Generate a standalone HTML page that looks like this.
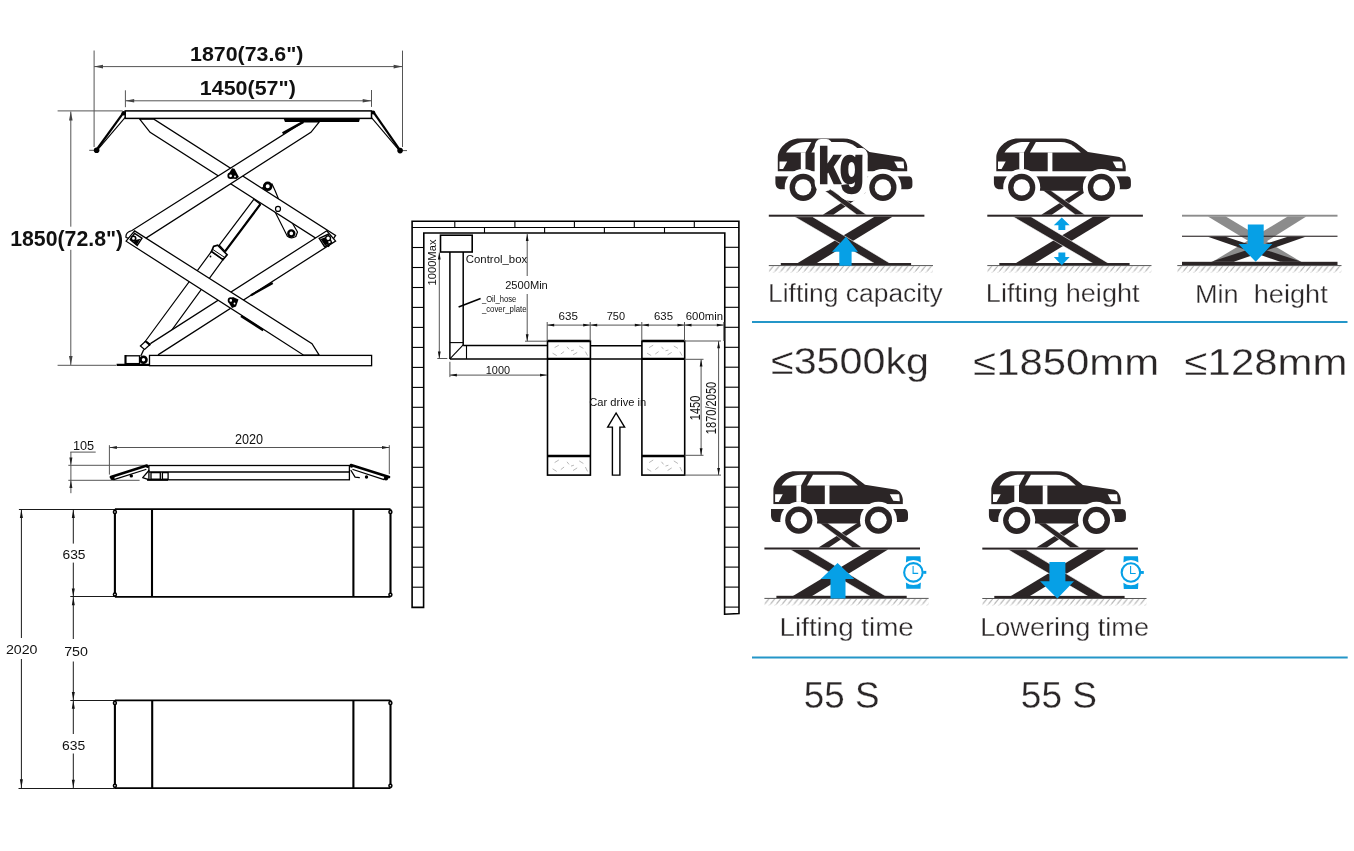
<!DOCTYPE html>
<html><head><meta charset="utf-8">
<style>
html,body{margin:0;padding:0;background:#fff;}
body{width:1354px;height:851px;overflow:hidden;position:relative;}
svg{position:absolute;left:0;top:0;will-change:transform;}
.lbl{font-family:"Liberation Sans",sans-serif;fill:#2a2627;stroke:#fff;stroke-width:0.3;}
.dim{font-family:"Liberation Sans",sans-serif;fill:#111;}
</style></head><body>
<svg width="1354" height="851" viewBox="0 0 1354 851">
<defs>
  <g id="car">
    <path fill="#2b2526" d="M2.4,33.1 L2.4,19 C2.4,10 12,0 24,0 L68,0 C74,0 78,1.5 83,5 L94,13.6 L124,18.3 C128,19 131,22 131.8,28 L131.8,33.1 Z"/>
    <path fill="#fff" d="M10.6,14.2 C14,8 22,3.5 30,3.5 L36,3.5 L30.1,14.2 Z"/>
    <path fill="#fff" d="M42,3.5 L67,3.5 C72,3.5 76,5 80,8 L86.9,14.2 L36,14.2 Z"/>
    <rect fill="#fff" x="25.4" y="14" width="4.7" height="16.7"/>
    <rect fill="#fff" x="53.8" y="14" width="4.7" height="20"/>
    <path fill="#fff" d="M4.1,23 L11.8,23 L7.7,30.7 L4.1,30.7 Z"/>
    <path fill="#fff" d="M118.8,23 L128.2,23 L128.8,30.1 L122.3,29.5 Z"/>
    <path fill="#2b2526" d="M0,37.8 L133,37.8 C136,37.8 137,40 137,43 L137,46.5 C137,49.5 135.5,50.8 131,50.8 L90,50.8 L89,52.3 L44,52.3 L43,50.8 L6,50.8 C2,50.8 0,48 0,44 Z"/>
    <circle fill="#fff" cx="27.8" cy="49" r="18.5"/>
    <circle fill="#fff" cx="107.5" cy="49" r="18.5"/>
    <rect fill="#fff" x="0" y="33.1" width="140" height="4.7"/>
    <circle fill="#2b2526" cx="27.8" cy="49" r="13.6"/>
    <circle fill="#fff" cx="27.8" cy="49" r="8.2"/>
    <circle fill="#2b2526" cx="107.5" cy="49" r="13.6"/>
    <circle fill="#fff" cx="107.5" cy="49" r="8.2"/>
  </g>
  <pattern id="hatch" width="5.85" height="7" patternUnits="userSpaceOnUse">
    <line x1="0.3" y1="6.6" x2="5.3" y2="0.4" stroke="#5c5c5c" stroke-width="0.7"/>
  </pattern>
  <g id="ground">
    <rect x="0" y="50.6" width="164" height="6.2" fill="url(#hatch)"/>
    <line x1="0" y1="49.9" x2="164.2" y2="49.9" stroke="#555" stroke-width="1"/>
  </g>
  <g id="smallx">
    <polygon fill="#2b2526" points="93,-25.6 101,-25.6 64.5,-1 54,-1"/>
    <polygon fill="#2b2526" stroke="#fff" stroke-width="0.5" points="55,-25.6 63,-25.6 97.7,-1 88,-1"/>
  </g>
  <g id="bigx">
    <polygon fill="#2b2526" points="105.7,1 123.7,1 46.5,48.2 27.3,48.2"/>
    <polygon fill="#2b2526" stroke="#fff" stroke-width="0.6" points="25.7,1 43.7,1 122.3,48.2 106.4,48.2"/>
    <rect fill="#2b2526" x="0" y="-1" width="155.6" height="2"/>
    <rect fill="#2b2526" x="12" y="47.3" width="130.3" height="2.2"/>
  </g>
  <g id="lifticon">
    <use href="#ground"/>
    <use href="#smallx"/>
    <use href="#car" x="6.6" y="-77.3"/>
    <use href="#bigx"/>
  </g>
  <g id="watch">
    <path d="M-7.1,-16.2 L7.1,-16.2 L7.5,-10 A12.5,12.5 0 0 0 -7.5,-10 Z" fill="#06a0e6"/>
    <path d="M-7.1,16.4 L7.1,16.4 L7.5,10.2 A12.5,12.5 0 0 1 -7.5,10.2 Z" fill="#06a0e6"/>
    <circle cx="0" cy="0" r="9.25" fill="#fff" stroke="#06a0e6" stroke-width="2.1"/>
    <path d="M-0.3,-6.4 L-0.3,1 L4.8,1" fill="none" stroke="#06a0e6" stroke-width="1.1"/>
    <rect x="9.8" y="-1.5" width="3.1" height="2.9" fill="#06a0e6"/>
  </g>
</defs>


<!-- ===== DRAWING A: side view ===== -->
<g id="drawA" fill="none" stroke-linecap="butt">
  <!-- dimension lines -->
  <g stroke="#555" stroke-width="1">
    <line x1="94.1" y1="50.5" x2="94.1" y2="147"/>
    <line x1="402.5" y1="50.6" x2="402.5" y2="147"/>
    <line x1="94.1" y1="66.6" x2="402.5" y2="66.6"/>
    <line x1="125.4" y1="90.3" x2="125.4" y2="107.2"/>
    <line x1="371.5" y1="90" x2="371.5" y2="106.9"/>
    <line x1="125.4" y1="100.8" x2="371.5" y2="100.8"/>
    <line x1="57.6" y1="110.9" x2="122.7" y2="110.9"/>
    <line x1="57.6" y1="365.3" x2="116" y2="365.3"/>
    <line x1="70.8" y1="111.5" x2="70.8" y2="226.7"/><line x1="70.8" y1="249.8" x2="70.8" y2="365"/>
    <line x1="89.2" y1="150.3" x2="96" y2="150.3"/>
    <line x1="400" y1="150.6" x2="407" y2="150.6"/>
  </g>
  <g fill="#444" stroke="none">
    <polygon points="94.1,66.6 103,64.8 103,68.4"/>
    <polygon points="402.5,66.6 393.6,64.8 393.6,68.4"/>
    <polygon points="125.4,100.8 134.2,99 134.2,102.6"/>
    <polygon points="371.5,100.8 362.7,99 362.7,102.6"/>
    <polygon points="70.8,111.5 69,120.5 72.6,120.5"/>
    <polygon points="70.8,365 69,356 72.6,356"/>
  </g>
  <!-- cylinder (behind) -->
  <g stroke="#000" stroke-width="1.2" fill="#fff">
    <polygon points="144.8,342 211.5,251.4 223,259.6 168.5,334.5 150.4,344"/>
    <polygon points="219.3,245.2 253.8,199.3 260.4,204.2 225.1,251.4" />
    <polygon points="213.6,246.4 217.7,245.2 227.1,254.7 223,259.6 211.5,251.4" stroke-width="1.7"/>
  </g>
  <line x1="213" y1="249.6" x2="224" y2="257" stroke="#000" stroke-width="1"/>
  <circle cx="210.5" cy="256.5" r="0.9" fill="#000"/>
  <line x1="225.1" y1="251.4" x2="260.4" y2="204.2" stroke="#000" stroke-width="2.2"/>
  <!-- link (behind arm A) -->
  <path d="M262.8,187.5 L287.2,236 Q291,239.5 295.8,236.5 L297.5,232 L278.5,199 Q275,190 272,184 Z" stroke="#000" stroke-width="1.2" fill="#fff"/>
  <!-- arms -->
  <g stroke="#000" stroke-width="1.25" fill="#fff" stroke-linejoin="miter">
    <polygon points="139.7,119.1 153.9,119.1 335.6,235.4 328.6,246.4 150.1,132.3"/>
    <path d="M303.4,121.9 L319.3,121.9 L310.9,132.3 L146.4,237.9 L136,240 L126.1,237.5 Q125,232.5 132,230.5 Z"/>
    <polygon points="150.4,343.6 326.8,230.8 335.6,241 158,354.9 146,362 141,352" stroke="none"/><path d="M150.4,343.6 L326.8,230.8 L335.6,241 L158,354.9" fill="none"/>
    <polygon points="134.6,230.9 312,343.7 319.2,355.2 303.7,355.2 126.1,241.2"/>
  </g>
  <!-- pivot plates -->
  <g stroke="#000" stroke-width="1.4" fill="#fff">
    <polygon points="134.6,233.3 142,238.2 137.2,245.4 130.2,239.6"/>
    <polygon points="319.2,238.3 328.1,234.3 331.6,242.7 324.6,246.7"/>
  </g>
  <g fill="#000">
    <polygon points="135.5,240 140.5,238.8 137,244.5 133,242.5"/>
    <polygon points="320.5,239 326,237 329,243.5 325,245.5"/>
  </g>
  <!-- cylinder bottom block -->
  <g stroke="#000" fill="#fff" stroke-width="1.2">
    <polygon points="140.4,346 145.5,341.2 149.8,344.8 144.6,349.5"/>
  </g>
  <line x1="146" y1="341.5" x2="150.3" y2="345.3" stroke="#000" stroke-width="2.2"/>
  <line x1="143.8" y1="349.5" x2="140.8" y2="356" stroke="#000" stroke-width="1.3"/>
  <!-- platform and base -->
  <g stroke="#000" stroke-width="1.3" fill="#fff">
    <rect x="125.2" y="110.9" width="246.3" height="7.5" stroke-width="1.5"/>
    <rect x="149.5" y="355.4" width="222.1" height="10.3"/>
    <rect x="125.5" y="355.8" width="14" height="7.8"/>
  </g>
  <g stroke="#000" fill="none">
    <line x1="125.5" y1="355" x2="125.5" y2="365" stroke-width="2"/>
    <line x1="116.6" y1="364.9" x2="149.5" y2="364.9" stroke-width="2.2"/>
    <polygon points="283.6,118.6 360,118.6 359,121.9 285,121.9" fill="#000" stroke="none"/>
    <line x1="282.6" y1="133.2" x2="303.4" y2="121.9" stroke-width="2.4"/>
    <line x1="241" y1="316" x2="263.2" y2="330.4" stroke-width="2.2"/>
    <line x1="251" y1="295.2" x2="272.7" y2="283" stroke-width="2.2"/>
    <!-- ramps -->
    <line x1="123.5" y1="112.6" x2="96.4" y2="150" stroke-width="2.2"/>
    <line x1="125.2" y1="117.4" x2="98.6" y2="148.6" stroke-width="1.1"/>
    <line x1="373.3" y1="111.8" x2="400.1" y2="150.4" stroke-width="2.2"/>
    <line x1="371.5" y1="117.6" x2="398.2" y2="149.2" stroke-width="1.1"/>
  </g>
  <g fill="#000">
    <circle cx="96.6" cy="150.3" r="2.8"/>
    <circle cx="123.7" cy="113.2" r="2.3"/>
    <circle cx="400.1" cy="150.6" r="2.8"/>
    <circle cx="373.2" cy="112.6" r="2"/>
  </g>
  <g stroke="#000" fill="#fff">
    <circle cx="267.7" cy="186.3" r="3.4" stroke-width="2.8"/>
    <circle cx="278" cy="208.9" r="2.5" stroke-width="1.2"/>
    <circle cx="291.3" cy="233.4" r="3" stroke-width="2.4"/>
    
    <circle cx="133.5" cy="238.4" r="2.2" stroke-width="1.6"/>
    <circle cx="328.1" cy="238.3" r="2.4" stroke-width="1.4"/>
    
    <circle cx="143.5" cy="359.7" r="3" stroke-width="2.6"/>
  </g>
  <g fill="#000">
    
    
    
    
  </g>
  <!-- center pivots -->
  <g fill="#000">
    <path d="M229.5,172.5 L232,168.3 L234.5,168.7 L238.9,177.1 L236.4,179.1 L231,178.5 Z"/>
    <path d="M229,300 L233,297 L238.5,299.5 L236,306.5 L232,308 L229.5,304 Z"/>
  </g>
  <g stroke="#000" stroke-width="1.8" fill="#fff">
    <circle cx="230.6" cy="175.8" r="2.3"/>
    <circle cx="230.8" cy="300.4" r="2.2"/>
  </g>
  <g fill="#fff"><circle cx="235" cy="176.5" r="0.9"/><circle cx="234.5" cy="303.5" r="0.9"/></g>
  <g font-family="Liberation Sans" font-weight="bold" fill="#111" stroke="none">
    <text x="190" y="61" font-size="21" textLength="113.5" lengthAdjust="spacingAndGlyphs">1870(73.6")</text>
    <text x="199.8" y="94.7" font-size="21" textLength="96" lengthAdjust="spacingAndGlyphs">1450(57")</text>
    <text x="10.2" y="245.6" font-size="22" textLength="113" lengthAdjust="spacingAndGlyphs">1850(72.8")</text>
  </g>
</g>


<!-- ===== DRAWING B: low side view ===== -->
<g id="drawB">
  <g stroke="#555" stroke-width="1" fill="none">
    <line x1="70.3" y1="452.1" x2="95.7" y2="452.1"/>
    <line x1="70.9" y1="452.1" x2="70.9" y2="493.2"/>
    <line x1="68.3" y1="465.3" x2="146.9" y2="465.3"/>
    <line x1="68.3" y1="480.3" x2="139.6" y2="480.3"/>
    <line x1="109.4" y1="445.2" x2="109.4" y2="474.6"/>
    <line x1="389.3" y1="445.2" x2="389.3" y2="474.1"/>
    <line x1="109.4" y1="447.5" x2="389.3" y2="447.5"/>
  </g>
  <g fill="#222">
    <polygon points="70.9,465.3 69.4,457.5 72.4,457.5"/>
    <polygon points="70.9,480.3 69.4,488 72.4,488"/>
    <polygon points="109.6,447.5 116.9,446 116.9,449"/>
    <polygon points="389.3,447.5 382,446 382,449"/>
  </g>
  <g stroke="#000" stroke-width="1.3" fill="none">
    <rect x="148.9" y="465.5" width="200.5" height="14.3"/>
    <line x1="148.9" y1="472" x2="349.4" y2="472"/>
    <rect x="151" y="472.6" width="9.3" height="6.7"/>
    <rect x="162.4" y="472.6" width="5.7" height="6.7"/>
    <line x1="147" y1="479.8" x2="168" y2="479.8" stroke-width="2"/>
  </g>
  <g stroke="#000" fill="none" stroke-linecap="round" stroke-linejoin="round">
    <line x1="110.9" y1="477" x2="146.9" y2="465.6" stroke-width="2.6"/>
    <line x1="113.8" y1="479.6" x2="145.8" y2="469.5" stroke-width="1.3"/>
    <line x1="351" y1="465" x2="389" y2="477" stroke-width="2.6"/>
    <line x1="353" y1="469.5" x2="384" y2="479.6" stroke-width="1.3"/>
    <path d="M148.9,470.5 L142.7,477.7 L147.9,479.3" stroke-width="1.3"/>
    <path d="M351,470.5 L355.1,477.2 L359.3,477.7" stroke-width="1.3"/>
  </g>
  <g fill="#000">
    <circle cx="112.5" cy="477.9" r="2.2"/>
    <circle cx="386" cy="478.2" r="2.2"/>
    <circle cx="131.3" cy="475.9" r="1.7"/>
    <circle cx="366.5" cy="477" r="1.7"/>
    <circle cx="147.5" cy="466.5" r="1.5"/>
    <circle cx="351.5" cy="466.2" r="1.5"/>
  </g>
  <g font-family="Liberation Sans" fill="#111">
    <text x="72.9" y="450.3" font-size="12.5" textLength="21.2" lengthAdjust="spacingAndGlyphs">105</text>
    <text x="234.9" y="444.4" font-size="14" textLength="28.1" lengthAdjust="spacingAndGlyphs">2020</text>
  </g>
</g>

<!-- ===== DRAWING C: plan views ===== -->
<g id="drawC">
  <g stroke="#1a1a1a" stroke-width="1" fill="none">
    <line x1="18.9" y1="509.5" x2="114.9" y2="509.5"/>
    <line x1="70.3" y1="596.5" x2="114.9" y2="596.5"/>
    <line x1="70.3" y1="700.5" x2="114.9" y2="700.5"/>
    <line x1="18.5" y1="788.5" x2="114.9" y2="788.5"/>
    <line x1="21.4" y1="509.2" x2="21.4" y2="638"/>
    <line x1="21.4" y1="659" x2="21.4" y2="788.1"/>
    <line x1="73.3" y1="509.2" x2="73.3" y2="543.6"/>
    <line x1="73.3" y1="562.6" x2="73.3" y2="639"/>
    <line x1="73.3" y1="661.5" x2="73.3" y2="734"/>
    <line x1="73.3" y1="753.5" x2="73.3" y2="788.1"/>
  </g>
  <g fill="#111">
    <polygon points="21.4,509.6 19.9,518 22.9,518"/>
    <polygon points="21.4,787.7 19.9,779.3 22.9,779.3"/>
    <polygon points="73.3,509.6 71.8,518 74.8,518"/>
    <polygon points="73.3,596.5 71.8,588.5 74.8,588.5"/>
    <polygon points="73.3,597.3 71.8,605.3 74.8,605.3"/>
    <polygon points="73.3,699.9 71.8,691.9 74.8,691.9"/>
    <polygon points="73.3,700.7 71.8,708.7 74.8,708.7"/>
    <polygon points="73.3,787.7 71.8,779.7 74.8,779.7"/>
  </g>
  <g stroke="#000" fill="none">
    <g stroke-width="1.7">
      <line x1="114.9" y1="509.2" x2="390.5" y2="509.2"/>
      <line x1="114.9" y1="596.8" x2="390.5" y2="596.8"/>
      <line x1="114.9" y1="700.3" x2="390.5" y2="700.3"/>
      <line x1="114.9" y1="788.1" x2="390.5" y2="788.1"/>
    </g>
    <g stroke-width="2.1">
      <line x1="114.9" y1="509.2" x2="114.9" y2="596.8"/>
      <line x1="152" y1="509.2" x2="152" y2="596.8"/>
      <line x1="353.4" y1="509.2" x2="353.4" y2="596.8"/>
      <line x1="390.5" y1="509.2" x2="390.5" y2="596.8"/>
      <line x1="114.9" y1="700.3" x2="114.9" y2="788.1"/>
      <line x1="152.2" y1="700.3" x2="152.2" y2="788.1"/>
      <line x1="353.4" y1="700.3" x2="353.4" y2="788.1"/>
      <line x1="390.5" y1="700.3" x2="390.5" y2="788.1"/>
    </g>
    <g stroke-width="1.5" fill="#fff">
      <circle cx="114.9" cy="511.9" r="1.5"/>
      <circle cx="114.9" cy="594.5" r="1.5"/>
      <circle cx="390.4" cy="511.9" r="1.5"/>
      <circle cx="390.4" cy="594.7" r="1.5"/>
      <circle cx="114.9" cy="703" r="1.5"/>
      <circle cx="114.9" cy="785.8" r="1.5"/>
      <circle cx="390.4" cy="703" r="1.5"/>
      <circle cx="390.4" cy="785.8" r="1.5"/>
    </g>
  </g>
  <g font-family="Liberation Sans" fill="#111" font-size="13.6">
    <text x="62.5" y="558.5" textLength="23" lengthAdjust="spacingAndGlyphs">635</text>
    <text x="64.2" y="656.1" textLength="23.8" lengthAdjust="spacingAndGlyphs">750</text>
    <text x="62.1" y="749.9" textLength="23.2" lengthAdjust="spacingAndGlyphs">635</text>
    <text x="5.9" y="654.2" textLength="31.6" lengthAdjust="spacingAndGlyphs">2020</text>
  </g>
</g>


<!-- ===== DRAWING D: floor plan ===== -->
<g id="drawD">
  <g stroke="#000" fill="none">
    <path d="M412.1,607.4 L412.1,221.3 L738.9,221.3 L739,613.6 L724.6,614.2 L724.8,233 L423.8,233 L423.6,607.4 Z" stroke-width="1.6" stroke-linejoin="miter"/>
    <line x1="412.1" y1="227.5" x2="738.9" y2="227.5" stroke-width="1.1"/>
    <g stroke-width="1.1"><line x1="454.8" y1="221.3" x2="454.8" y2="227.5"/><line x1="514.9" y1="221.3" x2="514.9" y2="227.5"/><line x1="574.4" y1="221.3" x2="574.4" y2="227.5"/><line x1="634.3" y1="221.3" x2="634.3" y2="227.5"/><line x1="694.3" y1="221.3" x2="694.3" y2="227.5"/><line x1="484.5" y1="227.5" x2="484.5" y2="233"/><line x1="544.6" y1="227.5" x2="544.6" y2="233"/><line x1="604.4" y1="227.5" x2="604.4" y2="233"/><line x1="664.5" y1="227.5" x2="664.5" y2="233"/><line x1="412.1" y1="247.5" x2="423.8" y2="247.5"/><line x1="412.1" y1="267.5" x2="423.8" y2="267.5"/><line x1="412.1" y1="287.5" x2="423.8" y2="287.5"/><line x1="412.1" y1="307.4" x2="423.8" y2="307.4"/><line x1="412.1" y1="327.4" x2="423.8" y2="327.4"/><line x1="412.1" y1="347.4" x2="423.8" y2="347.4"/><line x1="412.1" y1="367.4" x2="423.8" y2="367.4"/><line x1="412.1" y1="387.4" x2="423.8" y2="387.4"/><line x1="412.1" y1="407.3" x2="423.8" y2="407.3"/><line x1="412.1" y1="427.3" x2="423.8" y2="427.3"/><line x1="412.1" y1="447.3" x2="423.8" y2="447.3"/><line x1="412.1" y1="467.3" x2="423.8" y2="467.3"/><line x1="412.1" y1="487.3" x2="423.8" y2="487.3"/><line x1="412.1" y1="507.2" x2="423.8" y2="507.2"/><line x1="412.1" y1="527.2" x2="423.8" y2="527.2"/><line x1="412.1" y1="547.2" x2="423.8" y2="547.2"/><line x1="412.1" y1="567.2" x2="423.8" y2="567.2"/><line x1="412.1" y1="587.2" x2="423.8" y2="587.2"/><line x1="724.8" y1="247.3" x2="738.9" y2="247.3"/><line x1="724.8" y1="267.3" x2="738.9" y2="267.3"/><line x1="724.8" y1="287.3" x2="738.9" y2="287.3"/><line x1="724.8" y1="307.3" x2="738.9" y2="307.3"/><line x1="724.8" y1="327.3" x2="738.9" y2="327.3"/><line x1="724.8" y1="347.3" x2="738.9" y2="347.3"/><line x1="724.8" y1="367.2" x2="738.9" y2="367.2"/><line x1="724.8" y1="387.2" x2="738.9" y2="387.2"/><line x1="724.8" y1="407.2" x2="738.9" y2="407.2"/><line x1="724.8" y1="427.2" x2="738.9" y2="427.2"/><line x1="724.8" y1="447.2" x2="738.9" y2="447.2"/><line x1="724.8" y1="467.2" x2="738.9" y2="467.2"/><line x1="724.8" y1="487.2" x2="738.9" y2="487.2"/><line x1="724.8" y1="507.2" x2="738.9" y2="507.2"/><line x1="724.8" y1="527.2" x2="738.9" y2="527.2"/><line x1="724.8" y1="547.2" x2="738.9" y2="547.2"/><line x1="724.8" y1="567.1" x2="738.9" y2="567.1"/><line x1="724.8" y1="587.1" x2="738.9" y2="587.1"/><line x1="724.8" y1="607.1" x2="738.9" y2="607.1"/></g>
    <rect x="440.5" y="235.2" width="31.7" height="16.8" stroke-width="1.6"/>
    <g stroke-width="1.5">
      <line x1="449.9" y1="252" x2="449.9" y2="358.9"/>
      <line x1="463.2" y1="252" x2="463.2" y2="345.6"/>
      <line x1="463.2" y1="345.6" x2="547.5" y2="345.6"/>
      <line x1="449.9" y1="358.9" x2="547.5" y2="358.9"/>
      <line x1="590.4" y1="345.8" x2="641.9" y2="345.8"/>
      <line x1="590.4" y1="358.9" x2="641.9" y2="358.9"/>
    </g>
    <g stroke-width="1.1">
      <line x1="466.5" y1="345.6" x2="466.5" y2="358.9"/>
      <line x1="449.9" y1="342.6" x2="463.2" y2="342.6"/>
      <line x1="449.9" y1="358.9" x2="463.2" y2="344.8"/>
    </g>
    <g stroke-width="1.6">
      <rect x="547.5" y="341" width="42.9" height="134.1"/>
      <rect x="641.9" y="341" width="42.8" height="134.1"/>
    </g>
    <g stroke-width="2.3">
      <line x1="547.5" y1="358.9" x2="590.4" y2="358.9"/>
      <line x1="547.5" y1="456" x2="590.4" y2="456"/>
      <line x1="641.9" y1="358.9" x2="684.7" y2="358.9"/>
      <line x1="641.9" y1="456" x2="684.7" y2="456"/>
      <line x1="547.5" y1="341" x2="590.4" y2="341"/>
      <line x1="641.9" y1="341" x2="684.7" y2="341"/>
    </g>
    <g stroke="#888" stroke-width="0.6"><line x1="554.6" y1="347.6" x2="558.8" y2="345.2"/><line x1="560.8" y1="354.0" x2="564.1" y2="351.6"/><line x1="567.0" y1="346.8" x2="569.0" y2="349.2"/><line x1="573.1" y1="354.8" x2="577.2" y2="352.4"/><line x1="579.2" y1="346.0" x2="583.4" y2="348.4"/><line x1="585.4" y1="351.6" x2="587.5" y2="355.6"/><line x1="556.7" y1="355.6" x2="552.6" y2="353.2"/><line x1="571.0" y1="350.8" x2="573.9" y2="350.0"/><line x1="649.1" y1="347.6" x2="653.2" y2="345.2"/><line x1="655.3" y1="354.0" x2="658.6" y2="351.6"/><line x1="661.5" y1="346.8" x2="663.5" y2="349.2"/><line x1="667.6" y1="354.8" x2="671.7" y2="352.4"/><line x1="673.8" y1="346.0" x2="677.9" y2="348.4"/><line x1="679.9" y1="351.6" x2="682.0" y2="355.6"/><line x1="651.2" y1="355.6" x2="647.1" y2="353.2"/><line x1="665.5" y1="350.8" x2="668.4" y2="350.0"/><line x1="554.6" y1="462.6" x2="558.8" y2="460.0"/><line x1="560.8" y1="469.6" x2="564.1" y2="467.0"/><line x1="567.0" y1="461.8" x2="569.0" y2="464.4"/><line x1="573.1" y1="470.5" x2="577.2" y2="467.9"/><line x1="579.2" y1="460.9" x2="583.4" y2="463.5"/><line x1="585.4" y1="467.0" x2="587.5" y2="471.4"/><line x1="556.7" y1="471.4" x2="552.6" y2="468.8"/><line x1="571.0" y1="466.1" x2="573.9" y2="465.2"/><line x1="649.1" y1="462.6" x2="653.2" y2="460.0"/><line x1="655.3" y1="469.6" x2="658.6" y2="467.0"/><line x1="661.5" y1="461.8" x2="663.5" y2="464.4"/><line x1="667.6" y1="470.5" x2="671.7" y2="467.9"/><line x1="673.8" y1="460.9" x2="677.9" y2="463.5"/><line x1="679.9" y1="467.0" x2="682.0" y2="471.4"/><line x1="651.2" y1="471.4" x2="647.1" y2="468.8"/><line x1="665.5" y1="466.1" x2="668.4" y2="465.2"/></g>
    <line x1="458.6" y1="307" x2="480.6" y2="298.5" stroke-width="1.6"/>
    <path d="M616.1,413 L624.6,427.1 L619.9,427.1 L619.9,475.1 L612.4,475.1 L612.4,427.1 L607.7,427.1 Z" stroke-width="1.4" stroke-linejoin="miter"/>
  </g>
  <g stroke="#555" stroke-width="1" fill="none">
    <line x1="439.3" y1="252.5" x2="439.3" y2="358.5"/>
    <line x1="437.3" y1="358.5" x2="447.3" y2="358.5"/>
    <line x1="527.2" y1="233.9" x2="527.2" y2="276"/>
    <line x1="527.2" y1="294" x2="527.2" y2="341.2"/>
    <line x1="525" y1="341.2" x2="547" y2="341.2"/>
    <line x1="547.2" y1="322" x2="547.2" y2="341"/>
    <line x1="590.2" y1="322" x2="590.2" y2="341"/>
    <line x1="641.8" y1="322" x2="641.8" y2="341"/>
    <line x1="684.5" y1="322" x2="684.5" y2="341"/>
    <line x1="723.8" y1="322" x2="723.8" y2="341"/>
    <line x1="547.2" y1="325.1" x2="723.8" y2="325.1"/>
    <line x1="449.9" y1="361.8" x2="449.9" y2="377.1"/>
    <line x1="449.9" y1="375.1" x2="547" y2="375.1"/>
    <line x1="684.7" y1="359.3" x2="703.5" y2="359.3"/>
    <line x1="684.7" y1="455.3" x2="703.5" y2="455.3"/>
    <line x1="701.1" y1="359.5" x2="701.1" y2="455.3"/>
    <line x1="684.7" y1="341" x2="721" y2="341"/>
    <line x1="684.7" y1="475.1" x2="721" y2="475.1"/>
    <line x1="718.6" y1="341" x2="718.6" y2="475.1"/>
  </g>
  <g fill="#111">
    <polygon points="439.3,252.5 437.9,259.5 440.7,259.5"/>
    <polygon points="439.3,358.5 437.9,351.5 440.7,351.5"/>
    <polygon points="527.2,233.9 525.8,240.9 528.6,240.9"/>
    <polygon points="527.2,341.2 525.8,334.2 528.6,334.2"/>
    <polygon points="547.2,325.1 554.2,323.7 554.2,326.5"/>
    <polygon points="590.2,325.1 583.2,323.7 583.2,326.5"/>
    <polygon points="590.2,325.1 597.2,323.7 597.2,326.5"/>
    <polygon points="641.8,325.1 634.8,323.7 634.8,326.5"/>
    <polygon points="641.8,325.1 648.8,323.7 648.8,326.5"/>
    <polygon points="684.5,325.1 677.5,323.7 677.5,326.5"/>
    <polygon points="684.5,325.1 691.5,323.7 691.5,326.5"/>
    <polygon points="723.8,325.1 716.8,323.7 716.8,326.5"/>
    <polygon points="449.9,375.1 456.9,373.7 456.9,376.5"/>
    <polygon points="547,375.1 540,373.7 540,376.5"/>
    <polygon points="701.1,359.5 699.7,366.5 702.5,366.5"/>
    <polygon points="701.1,455.3 699.7,448.3 702.5,448.3"/>
    <polygon points="718.6,341.2 717.2,348.2 720,348.2"/>
    <polygon points="718.6,474.9 717.2,467.9 720,467.9"/>
  </g>
  <g font-family="Liberation Sans" fill="#111">
    <text x="465.8" y="263" font-size="11.7" textLength="61.4" lengthAdjust="spacingAndGlyphs">Control_box</text>
    <text x="505.2" y="288.9" font-size="11" textLength="42.6" lengthAdjust="spacingAndGlyphs">2500Min</text>
    <text x="481.9" y="301.8" font-size="8.2" textLength="34.3" lengthAdjust="spacingAndGlyphs">_Oil_hose</text>
    <text x="481.9" y="311.5" font-size="8.2" textLength="44.6" lengthAdjust="spacingAndGlyphs">_cover_plate</text>
    <text x="558.6" y="319.8" font-size="11.2" textLength="19.4" lengthAdjust="spacingAndGlyphs">635</text>
    <text x="606.7" y="319.8" font-size="11.2" textLength="18.3" lengthAdjust="spacingAndGlyphs">750</text>
    <text x="654" y="319.8" font-size="11.2" textLength="19" lengthAdjust="spacingAndGlyphs">635</text>
    <text x="685.8" y="319.8" font-size="11.2" textLength="37.2" lengthAdjust="spacingAndGlyphs">600min</text>
    <text x="485.8" y="373.5" font-size="11" textLength="24.3" lengthAdjust="spacingAndGlyphs">1000</text>
    <text x="589.2" y="405.5" font-size="10.5" textLength="57" lengthAdjust="spacingAndGlyphs">Car drive in</text>
    <text transform="translate(436,285.5) rotate(-90)" font-size="11" textLength="46" lengthAdjust="spacingAndGlyphs">1000Max</text>
    <text transform="translate(699.5,420.2) rotate(-90)" font-size="14.2" textLength="24.6" lengthAdjust="spacingAndGlyphs">1450</text>
    <text transform="translate(716,434.2) rotate(-90)" font-size="14" textLength="52.5" lengthAdjust="spacingAndGlyphs">1870/2050</text>
  </g>
</g>

<!-- ===== RIGHT INFOGRAPHIC ===== -->
<g transform="translate(768.8,215.7)">
  <use href="#lifticon"/>
  <polygon fill="#06a0e6" points="77.2,21 89.2,36 82.8,36 82.8,50 70.5,50 70.5,36 63.2,36"/>
</g>
<g transform="translate(987.3,215.7)">
  <use href="#lifticon"/>
  <polygon fill="#06a0e6" points="74.5,1.7 82.4,9.5 78,9.5 78,14.2 71.1,14.2 71.1,9.5 66.5,9.5"/>
  <polygon fill="#06a0e6" points="74.5,49.5 82.4,41.4 78,41.4 78,36.8 71.1,36.8 71.1,41.4 66.5,41.4"/>
</g>
<g transform="translate(764.4,548.5)">
  <use href="#lifticon"/>
  <polygon fill="#06a0e6" points="73.2,14.6 89.9,30.5 81.1,30.5 81.1,49.9 66.1,49.9 66.1,30.5 56.4,30.5"/>
  <use href="#watch" x="149" y="23.9"/>
</g>
<g transform="translate(982.3,548.6)">
  <use href="#lifticon"/>
  <polygon fill="#06a0e6" points="75.1,49.9 91.7,32.6 83.1,32.6 83.1,13.3 67.1,13.3 67.1,32.6 57.8,32.6"/>
  <use href="#watch" x="148.6" y="23.9"/>
</g>

<line x1="752" y1="322" x2="1347.5" y2="322" stroke="#2496c8" stroke-width="2"/>
<line x1="752" y1="657.5" x2="1347.7" y2="657.5" stroke="#2496c8" stroke-width="2"/>

<text class="lbl" x="768.0" y="302" font-size="25.5" textLength="174.7" lengthAdjust="spacingAndGlyphs">Lifting capacity</text>
<text class="lbl" x="985.8" y="302" font-size="25.5" textLength="153.8" lengthAdjust="spacingAndGlyphs">Lifting height</text>
<text class="lbl" x="1195.0" y="302.5" font-size="25.5" textLength="132.7" lengthAdjust="spacingAndGlyphs" xml:space="preserve">Min  height</text>
<text class="lbl" x="771.0" y="374.3" font-size="37" textLength="158.0" lengthAdjust="spacingAndGlyphs">≤3500kg</text>
<text class="lbl" x="973.2" y="374.5" font-size="37" textLength="185.9" lengthAdjust="spacingAndGlyphs">≤1850mm</text>
<text class="lbl" x="1184.6" y="374.5" font-size="37" textLength="162.8" lengthAdjust="spacingAndGlyphs">≤128mm</text>
<text class="lbl" x="779.6" y="635.7" font-size="25.5" textLength="134.2" lengthAdjust="spacingAndGlyphs">Lifting time</text>
<text class="lbl" x="980.2" y="635.7" font-size="25.5" textLength="168.8" lengthAdjust="spacingAndGlyphs">Lowering time</text>
<text class="lbl" x="803.8" y="707.5" font-size="37" textLength="75.7" lengthAdjust="spacingAndGlyphs" xml:space="preserve">55 S</text>
<text class="lbl" x="1020.8" y="707.5" font-size="37" textLength="76.2" lengthAdjust="spacingAndGlyphs" xml:space="preserve">55 S</text>

<!-- min height icon -->
<g transform="translate(1182,215.7)">
  <use href="#ground" x="-4.7"/>
  <rect x="0" y="-0.95" width="155.5" height="1.9" fill="#8c8c8c"/>
  <polygon fill="#8c8c8c" points="25.9,0.9 43.8,0.9 119,46.1 101,46.1"/>
  <polygon fill="#8c8c8c" points="105.7,0.9 124.3,0.9 51.8,46.1 30.5,46.1"/>
  <rect x="0" y="20" width="155.5" height="1.1" fill="#2b2526"/>
  <polygon fill="#2b2526" points="25.9,21 43.8,21 119.6,46.1 98.3,46.1"/>
  <polygon fill="#2b2526" points="105.7,21 123.6,21 51.8,46.1 29.2,46.1"/>
  <rect x="0" y="46.1" width="155.5" height="3.3" fill="#2b2526"/>
  <polygon fill="#06a0e6" points="73.7,46.1 90.4,28.2 81.7,28.2 81.7,8.9 65.8,8.9 65.8,28.2 56.5,28.2"/>
</g>
<!-- kg -->
<text x="818.2" y="183.4" font-family="Liberation Sans" font-weight="bold" font-size="50" textLength="46" lengthAdjust="spacingAndGlyphs" fill="#fff" stroke="#fff" stroke-width="16" stroke-linejoin="round">kg</text>
<text x="818.2" y="183.4" font-family="Liberation Sans" font-weight="bold" font-size="50" textLength="46" lengthAdjust="spacingAndGlyphs" fill="#2b2526" stroke="#2b2526" stroke-width="2.6" stroke-linejoin="miter">kg</text>
</svg>
</body></html>
